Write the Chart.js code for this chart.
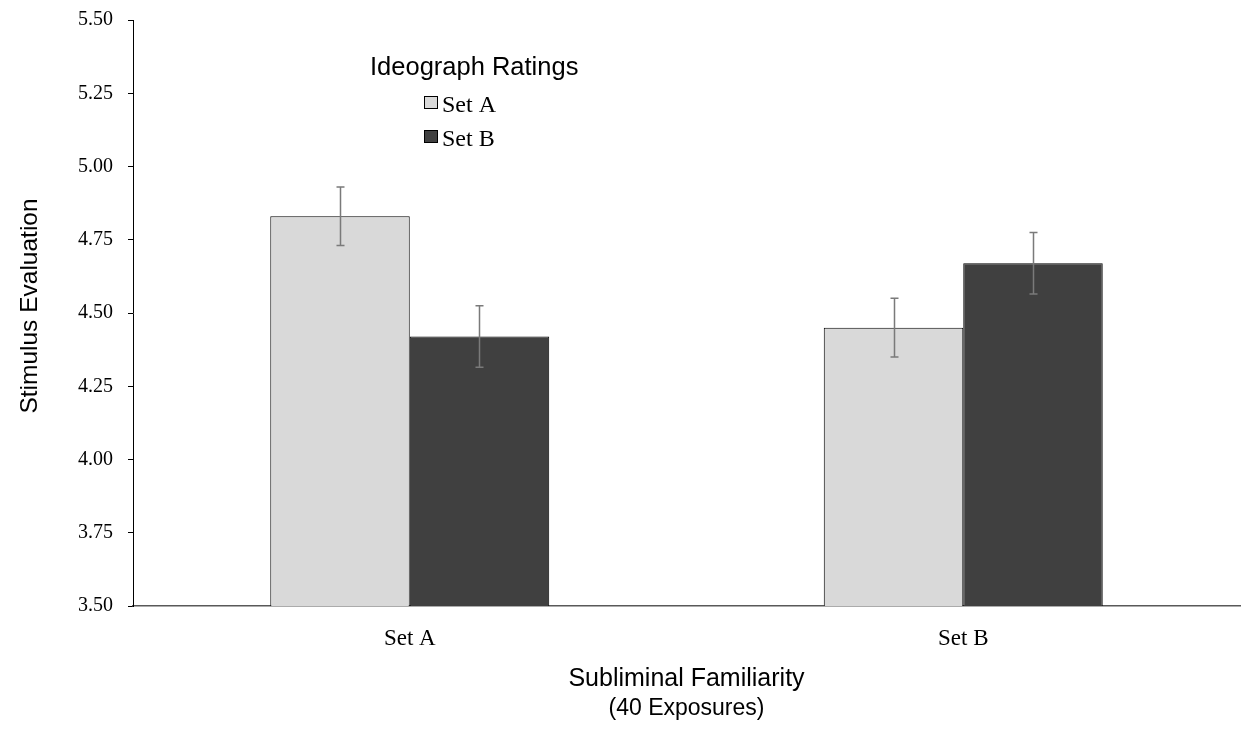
<!DOCTYPE html>
<html>
<head>
<meta charset="utf-8">
<script src="https://cdn.jsdelivr.net/npm/chart.js@4"></script>
<style>
  html, body { margin: 0; padding: 0; background: #fff; }
  #wrap { width: 1243px; height: 729px; }
</style>
</head>
<body>
<div id="wrap"><canvas id="chart" width="1243" height="729"></canvas></div>
<script>
// DATA
const categories = ["Set A", "Set B"];
const setAValues = [4.83, 4.45];
const setBValues = [4.42, 4.67];
const setAErrors = [0.10, 0.10];
const setBErrors = [0.105, 0.105];
const yTicks = [3.5, 3.75, 4.0, 4.25, 4.5, 4.75, 5.0, 5.25, 5.5];

const legendTitle = "Ideograph Ratings";
const xTitle = "Subliminal Familiarity";
const xSubtitle = "(40 Exposures)";
const yTitle = "Stimulus Evaluation";

const SERIF = "'Liberation Serif', 'Times New Roman', serif";
const SANS = "'Liberation Sans', Arial, sans-serif";

// ERROR BARS
const errorBars = {
  id: "error-bars",
  afterDatasetsDraw(chart) {
    const { ctx, scales: { y } } = chart;
    ctx.save();
    ctx.strokeStyle = "#7a7a7a";
    ctx.lineWidth = 1.5;
    chart.data.datasets.forEach((ds, i) => {
      const meta = chart.getDatasetMeta(i);
      meta.data.forEach((bar, j) => {
        const v = ds.data[j];
        const e = ds.errors[j];
        const top = y.getPixelForValue(v + e);
        const bot = y.getPixelForValue(v - e);
        const x = Math.round(bar.x) + 0.5;
        ctx.beginPath();
        ctx.moveTo(x, top);
        ctx.lineTo(x, bot);
        ctx.moveTo(x - 4, top);
        ctx.lineTo(x + 4, top);
        ctx.moveTo(x - 4, bot);
        ctx.lineTo(x + 4, bot);
        ctx.stroke();
      });
    });
    ctx.restore();
  },
};

// LEGEND, Y TITLE, SUBTITLE
const extras = {
  id: "extras",
  afterDraw(chart) {
    const { ctx, chartArea } = chart;
    ctx.save();
    ctx.fillStyle = "#000";
    ctx.textBaseline = "alphabetic";
    ctx.textAlign = "left";
    ctx.font = `25.5px ${SANS}`;
    ctx.fillText(legendTitle, 370, 75);

    ctx.font = `24px ${SERIF}`;
    chart.data.datasets.forEach((ds, i) => {
      const by = 96 + i * 34;
      ctx.fillStyle = ds.backgroundColor;
      ctx.fillRect(424, by, 13, 12);
      ctx.strokeStyle = "#000";
      ctx.lineWidth = 1;
      ctx.strokeRect(424.5, by + 0.5, 13, 12);
      ctx.fillStyle = "#000";
      ctx.fillText(ds.label, 442, by + 16);
    });

    ctx.font = `23px ${SANS}`;
    ctx.textAlign = "center";
    ctx.fillText(xSubtitle, (chartArea.left + chartArea.right) / 2, 715);

    // y title
    ctx.translate(37, 306);
    ctx.rotate(-Math.PI / 2);
    ctx.font = `24.5px ${SANS}`;
    ctx.fillText(yTitle, 0, 0);
    ctx.restore();
  },
};

new Chart(document.getElementById("chart"), {
  type: "bar",
  data: {
    labels: categories,
    datasets: [
      {
        label: "Set A",
        data: setAValues,
        errors: setAErrors,
        backgroundColor: "#d9d9d9",
        borderColor: "#000",
        borderWidth: 1,
      },
      {
        label: "Set B",
        data: setBValues,
        errors: setBErrors,
        backgroundColor: "#404040",
        borderColor: "#000",
        borderWidth: 1,
      },
    ],
  },
  options: {
    responsive: false,
    animation: false,
    layout: { padding: { top: 20, right: 3, left: 0, bottom: 0 } },
    datasets: { bar: { categoryPercentage: 0.504, barPercentage: 1 } },
    plugins: {
      legend: { display: false },
      tooltip: { enabled: false },
    },
    scales: {
      x: {
        grid: { display: false },
        border: { color: "#595959", width: 1.5 },
        ticks: { color: "#000", font: { family: SERIF, size: 23 }, padding: 11 },
        title: {
          display: true,
          text: xTitle,
          color: "#000",
          font: { family: SANS, size: 25 },
          padding: { top: 0, bottom: 35 },
        },
        afterFit: (s) => { s.height = 123; },
      },
      y: {
        min: 3.5,
        max: 5.5,
        afterBuildTicks: (s) => { s.ticks = yTicks.map((v) => ({ value: v })); },
        grid: { drawOnChartArea: false, drawTicks: true, tickLength: 5, color: "#000" },
        border: { color: "#000", width: 1 },
        ticks: {
          color: "#000",
          font: { family: SERIF, size: 20 },
          padding: 15,
          callback: (v) => Number(v).toFixed(2),
        },
        afterFit: (s) => {
          s.width = 133;
          s.paddingTop = 0;
          s.paddingBottom = 0;
        },
      },
    },
  },
  plugins: [errorBars, extras],
});
</script>
</body>
</html>
